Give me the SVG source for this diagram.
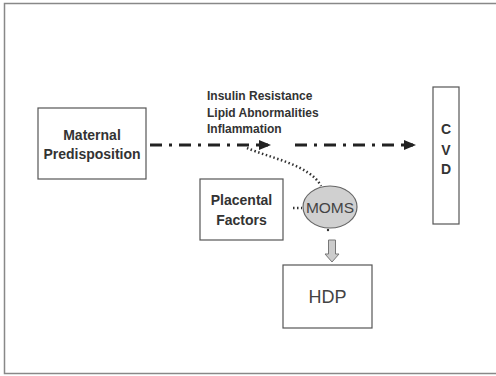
<svg xmlns="http://www.w3.org/2000/svg" width="496" height="376" viewBox="0 0 496 376">
<style>
.box{fill:#fff;stroke:#555;stroke-width:1.2}
.b{font-family:"Liberation Sans",Arial,sans-serif;font-weight:bold;fill:#333}
.n{font-family:"Liberation Sans",Arial,sans-serif;fill:#444}
.dd{fill:none;stroke:#222;stroke-width:3;stroke-dasharray:12 7 3 7}
.dot{fill:none;stroke:#333;stroke-width:2.5;stroke-dasharray:1.5 2.5}
</style>
<defs>
<marker id="ah" markerWidth="4" markerHeight="4" refX="3" refY="2" orient="auto" markerUnits="strokeWidth">
<path d="M0,0.3 L4,2 L0,3.7 Z" fill="#222"/>
</marker>
</defs>
<rect width="496" height="376" fill="#fff"/>
<rect x="4.5" y="3.5" width="494" height="370" fill="none" stroke="#888" stroke-width="1.5"/>
<g id="connectors">
<line class="dd" x1="150" y1="145" x2="268" y2="145" marker-end="url(#ah)"/>
<line class="dd" x1="295" y1="145" x2="413" y2="145" marker-end="url(#ah)"/>
<path class="dot" d="M247,148 C270,158 310,165 321,186"/>
<line class="dot" x1="293" y1="208" x2="302" y2="208"/>
<circle cx="328" cy="230" r="1.2" fill="#333"/>
<path d="M328.5,240 H335.5 V254 H339 L332,262 L325,254 H328.5 Z" fill="#ccc" stroke="#777" stroke-width="1"/>
</g>
<g id="maternal">
<rect class="box" x="38" y="108" width="108" height="71"/>
<text class="b" x="92" y="140" font-size="14" text-anchor="middle">Maternal</text>
<text class="b" x="92" y="159" font-size="14" text-anchor="middle">Predisposition</text>
</g>
<g id="risk-factors">
<text class="b" x="207" y="100" font-size="12">Insulin Resistance</text>
<text class="b" x="207" y="117" font-size="12">Lipid Abnormalities</text>
<text class="b" x="207" y="133" font-size="12">Inflammation</text>
</g>
<g id="cvd">
<rect class="box" x="433" y="87" width="26" height="137"/>
<text class="b" x="446" y="134" font-size="14" text-anchor="middle">C</text>
<text class="b" x="446" y="155" font-size="14" text-anchor="middle">V</text>
<text class="b" x="446" y="174" font-size="14" text-anchor="middle">D</text>
</g>
<g id="placental">
<rect class="box" x="200" y="179" width="83" height="61"/>
<text class="b" x="241.5" y="205" font-size="14" text-anchor="middle">Placental</text>
<text class="b" x="241.5" y="225" font-size="14" text-anchor="middle">Factors</text>
</g>
<g id="moms">
<ellipse cx="330" cy="207" rx="27" ry="21" fill="#d0d0d0" stroke="#666" stroke-width="1.2"/>
<text class="n" x="330" y="213" font-size="15.5" text-anchor="middle" fill="#333">MOMS</text>
</g>
<g id="hdp">
<rect class="box" x="283" y="265" width="89" height="63"/>
<text class="n" x="327.5" y="303" font-size="18" text-anchor="middle">HDP</text>
</g>
</svg>
